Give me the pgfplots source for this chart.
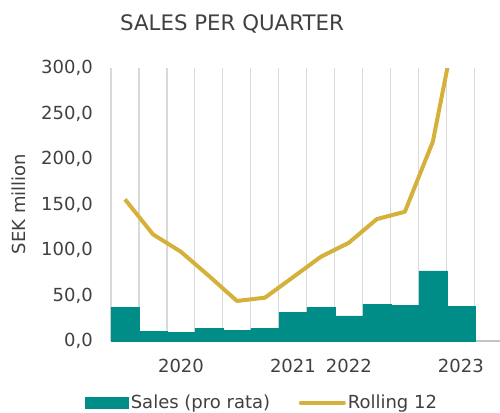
\documentclass[border=0pt]{standalone}
\usepackage{pgfplots}
\pgfplotsset{compat=1.18}
\usepackage{fontspec}
\setmainfont{DejaVu Sans}

\definecolor{teal}{HTML}{008C87}
\definecolor{gold}{HTML}{D5B13C}
\definecolor{txt}{HTML}{404040}
\definecolor{gridc}{HTML}{D9D9D9}
\definecolor{axisc}{HTML}{C4C4C4}

\begin{document}
\begin{tikzpicture}[font=\fontsize{13.5}{16}\selectfont, every node/.style={text=txt}]
\begin{axis}[
    scale only axis,
    width=291.75pt,
    height=204.75pt,
    xmin=0.5, xmax=14.4,
    ymin=0, ymax=300,
    axis lines=left,
    axis line style={-},
    x axis line style={draw=axisc, line width=0.8pt},
    y axis line style={draw=none},
    xtick={3,7,9,13},
    xticklabels={2020,2021,2022,2023},
    minor xtick={0.5,1.5,...,13.5},
    xminorgrids=true,
    minor grid style={draw=gridc, line width=0.8pt},
    ytick={0,50,...,300},
    major tick length=0pt,
    minor tick length=0pt,
    xticklabel style={anchor=north, inner sep=0pt, yshift=-13.5pt},
    yticklabel style={anchor=east, inner sep=0pt, xshift=-13.5pt},
    /pgf/number format/.cd, fixed, fixed zerofill, precision=1, use comma, assume math mode=true,
    /pgfplots/.cd,
    legend columns=2,
    legend cell align=left,
    legend style={
        at={(axis description cs:-0.0668,-0.227)},
        anchor=west,
        draw=none, fill=none,
        inner sep=0pt,
        nodes={inner sep=1.5pt, text=txt},
        /tikz/every even column/.append style={column sep=20pt},
    },
]
\addplot[ybar, bar width=1, fill=teal, draw=teal, line width=0.4pt,
    legend image code/.code={\fill[teal] (0pt,-4.1pt) rectangle (32.25pt,4.1pt);}]
    coordinates {
    (1,36.6) (2,10.2) (3,9.1) (4,13.5) (5,11.3) (6,13.5) (7,31.1)
    (8,36.6) (9,27.5) (10,40.3) (11,39.2) (12,77.0) (13,37.7)
};
\addlegendentry{Sales (pro rata)}
\addplot[draw=gold, line width=3pt, line join=round, mark=none,
    legend image code/.code={\draw[gold, line width=3pt, line cap=round] (1.5pt,0pt) -- (33.75pt,0pt);}]
    coordinates {
    (1,155.7) (2,117.2) (3,98.0) (4,71.5) (5,44.0) (6,47.6) (7,70.0)
    (8,92.6) (9,108.0) (10,134.0) (11,142.0) (12,219.0) (13,375.0)
};
\addlegendentry{Rolling 12}
\end{axis}
\node[anchor=base, font=\fontsize{16}{19}\selectfont] at (90.75pt,232.7pt) {SALES PER QUARTER};
\node[rotate=90, anchor=center] at (-69pt,102.75pt) {SEK million};
\pgfresetboundingbox
\path (-83.25pt,-53.25pt) rectangle (291.75pt,255.75pt);
\end{tikzpicture}
\end{document}
